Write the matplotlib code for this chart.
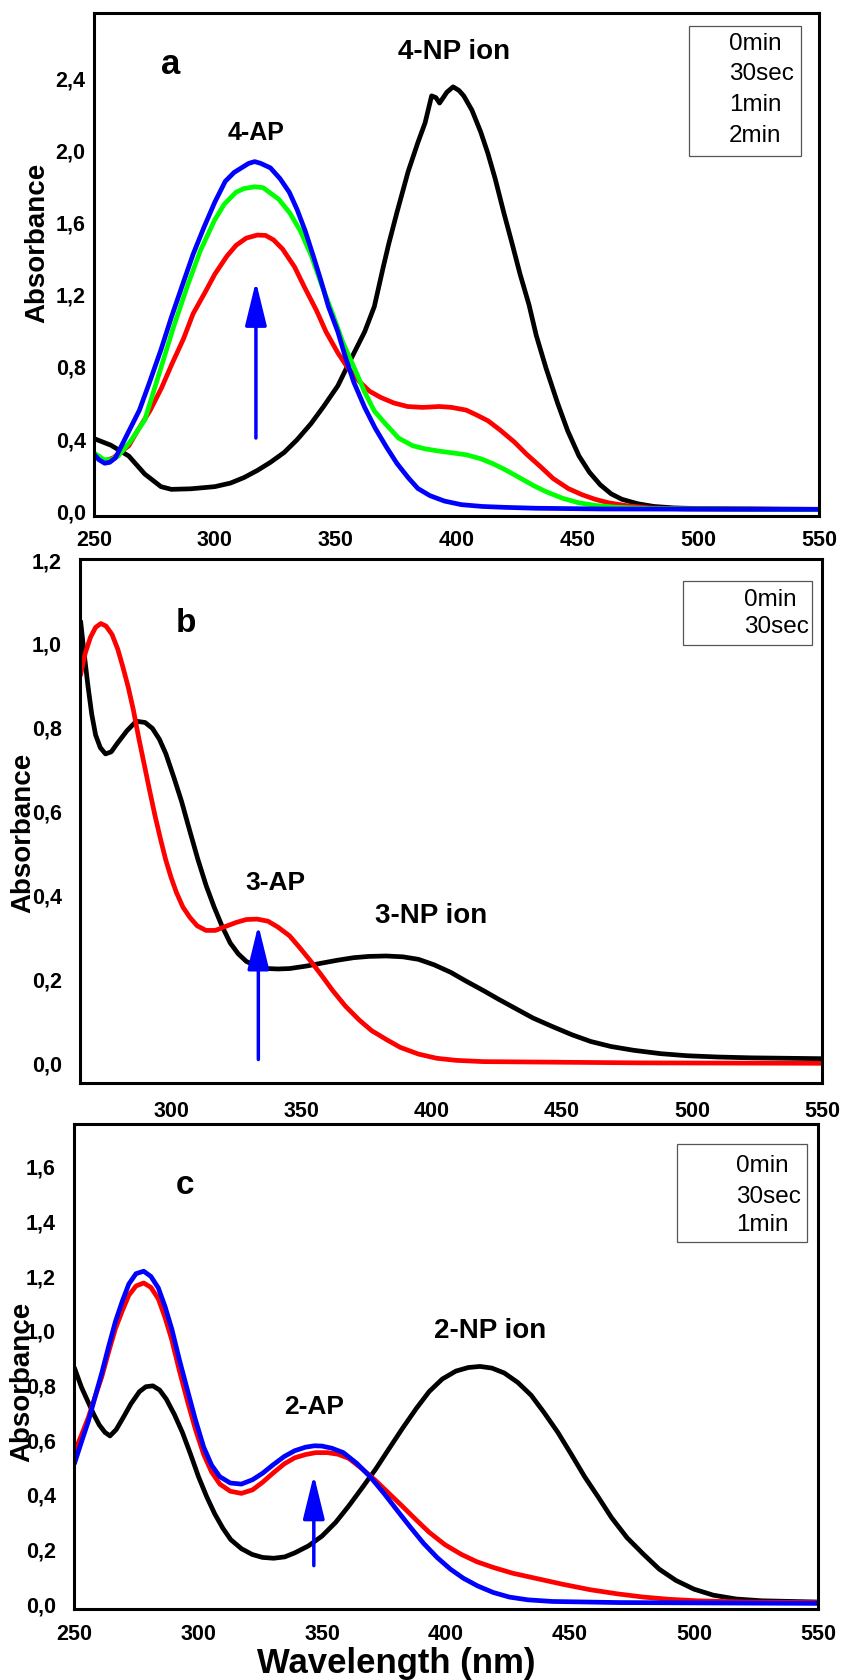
import matplotlib
matplotlib.use("Agg")
import matplotlib.pyplot as plt
from matplotlib.patches import Rectangle

plt.rcParams['font.family'] = ['Liberation Sans', 'DejaVu Sans']

# ---------------- Panel a data ----------------
a_black_x = [250, 257, 264.4, 271, 277.7, 282, 290, 300, 306.5, 312, 317.6, 323, 328.7, 334, 339.8, 345, 350.9, 356, 362, 366,
             369.7, 372, 375.3, 380, 384, 387, 389.7, 391.5, 393, 396, 398.6, 401, 403, 406.4, 410, 413, 416, 419.6, 423,
             426.3, 430, 433, 437, 441.8, 446, 450.7, 455, 459.5, 464, 468.4, 475, 481.7, 490, 500, 550]
a_black_y = [0.397, 0.36, 0.30, 0.20, 0.13, 0.115, 0.118, 0.13, 0.15, 0.18, 0.22, 0.265, 0.32, 0.39, 0.48, 0.575, 0.69, 0.83,
             0.99, 1.13, 1.35, 1.48, 1.65, 1.88, 2.04, 2.15, 2.30, 2.29, 2.26, 2.32, 2.35, 2.33, 2.30, 2.22, 2.10, 1.98, 1.84,
             1.65, 1.48, 1.31, 1.14, 0.97, 0.79, 0.595, 0.44, 0.30, 0.21, 0.14, 0.09, 0.06, 0.035, 0.02, 0.012, 0.008, 0.004]

a_red_x = [250, 254, 258, 264.4, 268, 273.3, 278, 282.2, 287, 291, 296, 300, 305, 308.8, 313, 317.6, 321, 324.3, 328, 333,
           337, 342, 346, 350.9, 355, 359.8, 364, 368.7, 374, 379.7, 386, 393, 398, 404, 408, 413, 418, 424, 429, 435, 440,
           446.3, 452, 457.3, 463, 470.6, 480, 495, 550]
a_red_y = [0.30, 0.27, 0.29, 0.357, 0.44, 0.555, 0.68, 0.81, 0.95, 1.09, 1.21, 1.31, 1.41, 1.47, 1.51, 1.527, 1.525, 1.50,
           1.45, 1.35, 1.24, 1.11, 0.99, 0.873, 0.79, 0.714, 0.66, 0.625, 0.595, 0.575, 0.57, 0.575, 0.57, 0.555, 0.53, 0.496,
           0.445, 0.377, 0.31, 0.238, 0.175, 0.119, 0.085, 0.06, 0.04, 0.024, 0.012, 0.006, 0.003]

a_green_x = [250, 252, 254, 257, 260, 265, 271, 277.7, 283, 288.8, 294, 299.9, 304, 308.8, 312, 316.5, 320, 326.5, 331,
             335.4, 340, 344.2, 349, 353, 358, 362, 366, 370.8, 376, 381.9, 387, 393, 398, 404, 410, 415, 420, 426.3, 432,
             437.4, 444, 450.7, 458, 466, 480, 550]
a_green_y = [0.317, 0.30, 0.28, 0.28, 0.30, 0.38, 0.50, 0.79, 1.02, 1.25, 1.44, 1.61, 1.70, 1.765, 1.785, 1.795, 1.79, 1.725,
             1.65, 1.55, 1.41, 1.25, 1.08, 0.93, 0.78, 0.655, 0.55, 0.476, 0.40, 0.357, 0.34, 0.327, 0.318, 0.307, 0.285, 0.258,
             0.225, 0.178, 0.135, 0.10, 0.065, 0.04, 0.025, 0.016, 0.008, 0.002]

a_blue_x = [250, 252, 254.4, 256.5, 258.9, 263, 268.8, 273, 277.7, 282, 286.6, 291, 295.5, 300, 304.3, 308, 311, 314, 316.5,
            319, 323, 327, 330.8, 334, 337.4, 341, 344, 347, 350.9, 354, 357.5, 362, 366.3, 371, 375.3, 380, 384, 389, 395,
            402, 410.7, 420, 433, 460, 550]
a_blue_y = [0.31, 0.28, 0.26, 0.265, 0.29, 0.40, 0.555, 0.71, 0.89, 1.07, 1.25, 1.42, 1.57, 1.71, 1.825, 1.875, 1.90, 1.925,
            1.935, 1.925, 1.90, 1.84, 1.765, 1.67, 1.55, 1.40, 1.27, 1.13, 0.99, 0.85, 0.71, 0.57, 0.456, 0.35, 0.26, 0.18,
            0.12, 0.08, 0.05, 0.03, 0.02, 0.015, 0.01, 0.006, 0.004]

# ---------------- Panel b data ----------------
b_black_x = [265.3, 266.5, 268, 269.5, 271, 272.8, 274.8, 277, 279.3, 283, 286.6, 290, 292.8, 295.5, 298, 301, 304, 307,
             310.3, 313.5, 316.5, 319.5, 322.7, 325.8, 328.9, 333, 337.2, 341, 345.5, 352, 357.9, 364, 370.2, 376, 382.6,
             389, 395, 401, 407.4, 413, 419.8, 426, 432.2, 439, 446.7, 454, 461.2, 469, 477.7, 488, 498.3, 510, 523, 550]
b_black_y = [1.048, 0.98, 0.90, 0.83, 0.78, 0.75, 0.735, 0.74, 0.76, 0.79, 0.813, 0.81, 0.796, 0.77, 0.735, 0.68, 0.622,
             0.555, 0.483, 0.42, 0.37, 0.325, 0.284, 0.258, 0.24, 0.228, 0.223, 0.222, 0.223, 0.229, 0.236, 0.243, 0.249,
             0.252, 0.253, 0.251, 0.245, 0.232, 0.214, 0.194, 0.171, 0.149, 0.128, 0.105, 0.084, 0.065, 0.049, 0.037, 0.028,
             0.02, 0.015, 0.012, 0.01, 0.008]

b_red_x = [265.3, 267, 269, 271, 273, 275, 277.3, 279.5, 281.4, 283.5, 285.5, 287.5, 289.7, 291.8, 293.8, 296, 297.9, 300,
           302, 304.5, 307.2, 310, 313.4, 317, 320.7, 325, 328.9, 333, 337.2, 341, 345.5, 349.5, 353.7, 358, 362, 367,
           372.3, 377, 382.6, 388, 395, 402, 409.5, 420, 440.5, 480, 550]
b_red_y = [0.926, 0.975, 1.013, 1.037, 1.046, 1.04, 1.02, 0.985, 0.944, 0.895, 0.84, 0.775, 0.709, 0.646, 0.588, 0.53,
           0.483, 0.44, 0.405, 0.37, 0.345, 0.325, 0.314, 0.314, 0.323, 0.333, 0.34, 0.341, 0.336, 0.322, 0.301, 0.272,
           0.24, 0.205, 0.171, 0.133, 0.10, 0.075, 0.054, 0.035, 0.019, 0.009, 0.004, 0.001, 0.0, -0.002, -0.003]

# ---------------- Panel c data ----------------
c_black_x = [250.4, 253, 255.8, 258, 260.2, 262.5, 264.5, 267, 269.9, 273, 276.4, 279, 281.8, 284.5, 287.2, 290.5, 293.7,
             297, 300.2, 303.5, 306.7, 310, 313.2, 317.5, 321.8, 326, 330.5, 335, 339.1, 344.5, 350, 355.5, 360.7, 366,
             371.6, 377, 382.4, 388, 393.2, 398.5, 404, 409, 413.7, 418.5, 423.5, 429, 434.3, 439.5, 445.1, 450.5, 455.9,
             461.5, 466.7, 473, 479.7, 486, 492.7, 500, 507.8, 517, 527.3, 550]
c_black_y = [0.855, 0.79, 0.734, 0.69, 0.652, 0.625, 0.612, 0.635, 0.68, 0.73, 0.774, 0.792, 0.795, 0.78, 0.747, 0.69,
             0.625, 0.545, 0.463, 0.39, 0.328, 0.275, 0.233, 0.2, 0.179, 0.168, 0.165, 0.17, 0.185, 0.21, 0.246, 0.296, 0.355,
             0.42, 0.49, 0.565, 0.639, 0.712, 0.774, 0.82, 0.849, 0.862, 0.866, 0.86, 0.842, 0.807, 0.761, 0.698, 0.625,
             0.545, 0.463, 0.387, 0.314, 0.24, 0.179, 0.125, 0.084, 0.052, 0.03, 0.016, 0.0095, 0.005]

c_red_x = [250.4, 253, 255.8, 258.5, 261.2, 264, 266.7, 269.5, 272.1, 275, 278.1, 281, 284, 286.7, 289.4, 292.5, 295.9, 299,
           302.3, 305.5, 308.8, 313, 317.5, 322, 326.1, 330.5, 334.8, 339, 343.4, 347.5, 352.1, 356.5, 360.8, 366, 371.6,
           377, 382.4, 388, 393.2, 399.5, 406.2, 412.5, 419.2, 427, 436.5, 447, 458.1, 469, 479.7, 490, 501.3, 520, 550]
c_red_y = [0.558, 0.615, 0.68, 0.755, 0.828, 0.92, 1.004, 1.07, 1.126, 1.16, 1.171, 1.155, 1.113, 1.045, 0.964, 0.85,
           0.734, 0.635, 0.544, 0.48, 0.436, 0.41, 0.402, 0.415, 0.443, 0.478, 0.51, 0.532, 0.544, 0.551, 0.551, 0.545, 0.53,
           0.493, 0.449, 0.402, 0.355, 0.305, 0.26, 0.215, 0.179, 0.152, 0.131, 0.11, 0.091, 0.07, 0.05, 0.035, 0.023,
           0.015, 0.0095, 0.005, 0.003]

c_blue_x = [250.4, 253, 255.8, 258.5, 261.2, 264, 266.7, 269.5, 272.1, 275, 278.1, 281, 284, 286.7, 289.4, 292.5, 295.9,
            299, 302.3, 305.5, 308.8, 313, 317.5, 322, 326.1, 330.5, 334.8, 339, 343.4, 347, 350, 354, 358.6, 364, 369.4,
            375, 380.2, 385.5, 391, 396.5, 401.8, 407, 412.7, 419, 425.6, 433, 443, 470, 550]
c_blue_y = [0.517, 0.59, 0.666, 0.755, 0.842, 0.94, 1.03, 1.105, 1.167, 1.205, 1.214, 1.195, 1.153, 1.085, 1.004, 0.89,
            0.774, 0.67, 0.571, 0.505, 0.463, 0.44, 0.436, 0.452, 0.476, 0.508, 0.537, 0.558, 0.571, 0.576, 0.575, 0.567,
            0.551, 0.512, 0.463, 0.402, 0.341, 0.28, 0.219, 0.167, 0.125, 0.092, 0.064, 0.04, 0.023, 0.013, 0.007, 0.003, 0.0]

# ---------------- labels / ticks ----------------
legend_a = ['0min', '30sec', '1min', '2min']
legend_b = ['0min', '30sec']
legend_c = ['0min', '30sec', '1min']

xticks_a = [250, 300, 350, 400, 450, 500, 550]
xticks_b = [300, 350, 400, 450, 500, 550]
xticks_c = [250, 300, 350, 400, 450, 500, 550]
yticks_a = [0.0, 0.4, 0.8, 1.2, 1.6, 2.0, 2.4]
ytick_labels_a = ['0,0', '0,4', '0,8', '1,2', '1,6', '2,0', '2,4']
yticks_b = [0.0, 0.2, 0.4, 0.6, 0.8, 1.0, 1.2]
ytick_labels_b = ['0,0', '0,2', '0,4', '0,6', '0,8', '1,0', '1,2']
yticks_c = [0.0, 0.2, 0.4, 0.6, 0.8, 1.0, 1.2, 1.4, 1.6]
ytick_labels_c = ['0,0', '0,2', '0,4', '0,6', '0,8', '1,0', '1,2', '1,4', '1,6']

W, H = 841, 1681
fig = plt.figure(figsize=(W / 100, H / 100), dpi=100)


def px_axes(l, t, r, b):
    return fig.add_axes([l / W, 1 - b / H, (r - l) / W, (b - t) / H])


def style(ax, xticks, yticks, ylabels, xpad, ypad):
    ax.set_xticks(xticks)
    ax.set_xticklabels([str(v) for v in xticks])
    ax.set_yticks(yticks)
    ax.set_yticklabels(ylabels)
    ax.tick_params(length=0, labelsize=15.5)
    ax.tick_params(axis='x', pad=xpad)
    ax.tick_params(axis='y', pad=ypad)
    for lab in ax.get_xticklabels() + ax.get_yticklabels():
        lab.set_fontweight('bold')
    for sp in ax.spines.values():
        sp.set_linewidth(2.2)


def set_ylab(ax, box, cx, cy):
    l, t, r, b = box
    ax.set_ylabel('Absorbance', fontsize=20, fontweight='bold')
    ax.yaxis.label.set_verticalalignment('center')
    ax.yaxis.set_label_coords((cx - l) / (r - l), (b - cy) / (b - t))


def legend_box(box, labels, x_text, y_rows):
    l, t, r, b = box
    fig.patches.append(Rectangle((l / W, 1 - b / H), (r - l) / W, (b - t) / H, transform=fig.transFigure,
                                 fill=False, edgecolor='#555555', linewidth=0.9))
    for lab, y in zip(labels, y_rows):
        fig.text(x_text / W, 1 - y / H, lab, ha='left', va='center', fontsize=17.5)


def arrow(ax, x, y0, y1):
    ax.annotate('', xy=(x, y1), xytext=(x, y0),
                arrowprops=dict(arrowstyle='-|>,head_length=1.35,head_width=0.33', color='#0000ff', lw=2.5,
                                mutation_scale=20, shrinkA=0, shrinkB=0))


lw = 3.4
# ---- Panel a ----
box_a = (94, 14, 819, 517)
ax1 = px_axes(*box_a)
ax1.plot(a_black_x, a_black_y, color='black', lw=lw, solid_joinstyle='round')
ax1.plot(a_red_x, a_red_y, color='#ff0000', lw=lw, solid_joinstyle='round')
ax1.plot(a_green_x, a_green_y, color='#00ff00', lw=lw, solid_joinstyle='round')
ax1.plot(a_blue_x, a_blue_y, color='#0000ff', lw=lw, solid_joinstyle='round')
ax1.set_xlim(250, 550)
ax1.set_ylim(-0.033, 2.76)
style(ax1, xticks_a, yticks_a, ytick_labels_a, 9, 6)
set_ylab(ax1, box_a, 37, 243)
ax1.text(281.7, 2.48, 'a', fontsize=25, fontweight='bold', ha='center', va='center')
ax1.text(399, 2.55, '4-NP ion', fontsize=20, fontweight='bold', ha='center', va='center')
ax1.text(317, 2.10, '4-AP', fontsize=18, fontweight='bold', ha='center', va='center')
arrow(ax1, 317, 0.40, 1.27)
legend_box((689, 27, 801, 157), legend_a, 729, [44, 74, 105, 136])

# ---- Panel b ----
box_b = (80, 560, 822, 1084)
ax2 = px_axes(*box_b)
ax2.plot(b_black_x, b_black_y, color='black', lw=lw, solid_joinstyle='round')
ax2.plot(b_red_x, b_red_y, color='#ff0000', lw=lw, solid_joinstyle='round')
ax2.set_xlim(265, 550)
ax2.set_ylim(-0.05, 1.2)
style(ax2, xticks_b, yticks_b, ytick_labels_b, 12, 13)
set_ylab(ax2, box_b, 23, 833)
ax2.text(305.8, 1.048, 'b', fontsize=24, fontweight='bold', ha='center', va='center')
ax2.text(340, 0.43, '3-AP', fontsize=19, fontweight='bold', ha='center', va='center')
ax2.text(400, 0.35, '3-NP ion', fontsize=20, fontweight='bold', ha='center', va='center')
arrow(ax2, 333.5, 0.006, 0.327)
legend_box((683, 582, 812, 646), legend_b, 744, [600, 627])

# ---- Panel c ----
box_c = (74, 1125, 818, 1610)
ax3 = px_axes(*box_c)
ax3.plot(c_black_x, c_black_y, color='black', lw=lw, solid_joinstyle='round')
ax3.plot(c_red_x, c_red_y, color='#ff0000', lw=lw, solid_joinstyle='round')
ax3.plot(c_blue_x, c_blue_y, color='#0000ff', lw=lw, solid_joinstyle='round')
ax3.set_xlim(250, 550)
ax3.set_ylim(-0.0205, 1.752)
style(ax3, xticks_c, yticks_c, ytick_labels_c, 10, 13)
set_ylab(ax3, box_c, 22.5, 1382)
ax3.set_xlabel('Wavelength (nm)', fontsize=25, fontweight='bold')
ax3.xaxis.label.set_verticalalignment('center')
ax3.xaxis.set_label_coords((396 - 74) / (818 - 74), (1610 - 1664) / (1610 - 1125))
ax3.text(294.8, 1.53, 'c', fontsize=24, fontweight='bold', ha='center', va='center')
ax3.text(347, 0.72, '2-AP', fontsize=19, fontweight='bold', ha='center', va='center')
ax3.text(417.6, 1.0, '2-NP ion', fontsize=20, fontweight='bold', ha='center', va='center')
arrow(ax3, 346.7, 0.138, 0.47)
legend_box((677, 1145, 807, 1243), legend_c, 736, [1166, 1197, 1225])

fig.savefig('out.png', dpi=100)
